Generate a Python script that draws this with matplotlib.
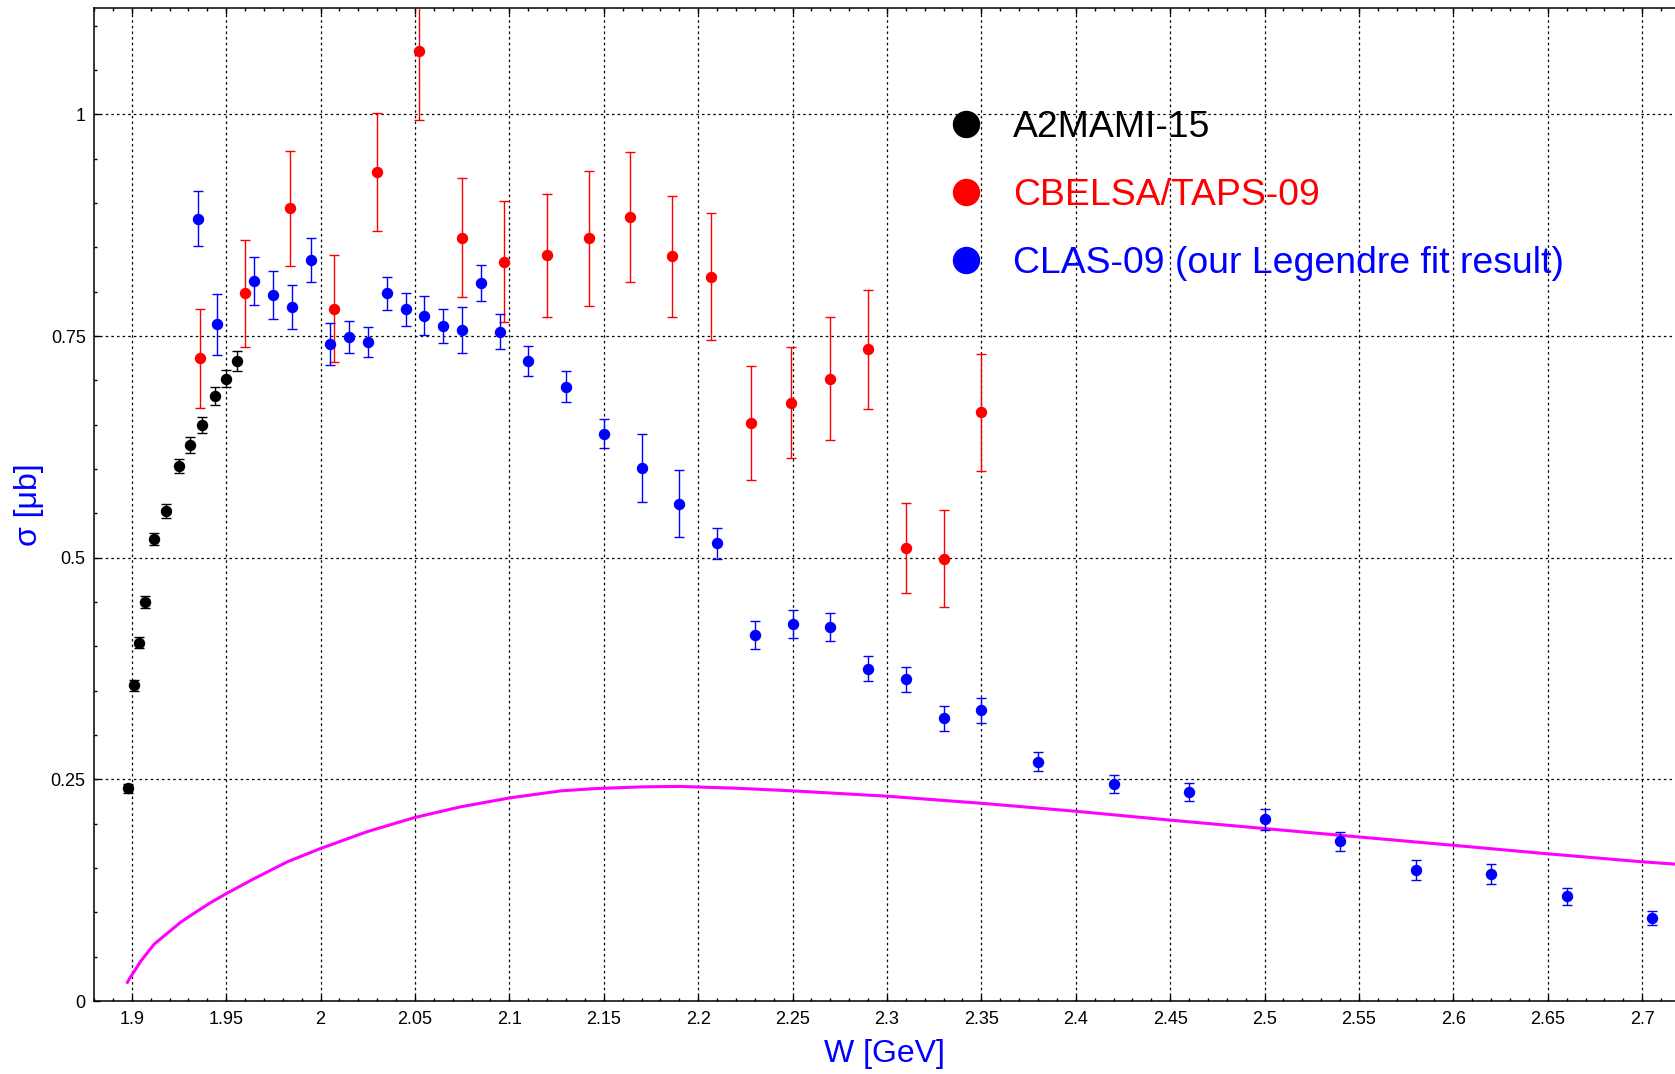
import matplotlib
matplotlib.use("Agg")
import matplotlib.pyplot as plt
from matplotlib.lines import Line2D
from matplotlib.ticker import MultipleLocator, FuncFormatter

plt.rcParams['font.family'] = ['Liberation Sans', 'DejaVu Sans']

# A2MAMI-15
mami_w = [1.898, 1.901, 1.904, 1.907, 1.912, 1.918, 1.925, 1.931, 1.937, 1.944, 1.950, 1.956]
mami_s = [0.240, 0.356, 0.404, 0.450, 0.521, 0.553, 0.603, 0.627, 0.650, 0.682, 0.702, 0.722]
mami_e = [0.005, 0.006, 0.006, 0.007, 0.007, 0.008, 0.008, 0.009, 0.009, 0.010, 0.010, 0.011]

# CBELSA/TAPS-09
cb_w = [1.936, 1.960, 1.984, 2.007, 2.030, 2.052, 2.075, 2.097, 2.120, 2.142, 2.164, 2.186,
        2.207, 2.228, 2.249, 2.270, 2.290, 2.310, 2.330, 2.350]
cb_s = [0.725, 0.798, 0.894, 0.781, 0.935, 1.071, 0.861, 0.834, 0.841, 0.860, 0.884, 0.840,
        0.817, 0.652, 0.675, 0.702, 0.735, 0.511, 0.499, 0.664]
cb_e = [0.056, 0.060, 0.065, 0.060, 0.067, 0.077, 0.067, 0.068, 0.069, 0.076, 0.073, 0.068,
        0.072, 0.064, 0.063, 0.069, 0.067, 0.051, 0.055, 0.066]

# CLAS-09 (Legendre fit)
clas_w = [1.935, 1.945, 1.965, 1.975, 1.985, 1.995, 2.005, 2.015, 2.025, 2.035, 2.045, 2.055,
          2.065, 2.075, 2.085, 2.095, 2.110, 2.130, 2.150, 2.170, 2.190, 2.210, 2.230, 2.250,
          2.270, 2.290, 2.310, 2.330, 2.350, 2.380, 2.420, 2.460, 2.500, 2.540, 2.580, 2.620,
          2.660, 2.705]
clas_s = [0.882, 0.763, 0.812, 0.796, 0.783, 0.836, 0.741, 0.749, 0.743, 0.798, 0.780, 0.773,
          0.761, 0.757, 0.810, 0.755, 0.722, 0.693, 0.640, 0.601, 0.561, 0.516, 0.413, 0.425,
          0.422, 0.375, 0.363, 0.319, 0.328, 0.270, 0.245, 0.236, 0.205, 0.180, 0.148, 0.143,
          0.118, 0.094]
clas_e = [0.031, 0.034, 0.027, 0.027, 0.025, 0.025, 0.024, 0.018, 0.017, 0.019, 0.019, 0.022,
          0.019, 0.026, 0.020, 0.020, 0.017, 0.017, 0.016, 0.038, 0.038, 0.017, 0.016, 0.016,
          0.016, 0.014, 0.014, 0.014, 0.014, 0.011, 0.010, 0.010, 0.012, 0.011, 0.011, 0.011,
          0.010, 0.008]

# model curve
curve_w = [1.8977, 1.899, 1.9012, 1.9048, 1.9085, 1.9118, 1.9189, 1.926, 1.933, 1.9418,
           1.95, 1.9648, 1.9824, 2.0, 2.0247, 2.05, 2.0742, 2.1, 2.1273, 2.1449, 2.17, 2.19,
           2.22, 2.25, 2.30, 2.35, 2.40, 2.45, 2.50, 2.55, 2.60, 2.65, 2.70, 2.72]
curve_s = [0.021, 0.026, 0.033, 0.045, 0.055, 0.064, 0.0765, 0.089, 0.0990, 0.111,
           0.121, 0.138, 0.157, 0.172, 0.191, 0.207, 0.219, 0.229, 0.237, 0.2395, 0.2415,
           0.242, 0.240, 0.237, 0.231, 0.223, 0.214, 0.204, 0.1945, 0.185, 0.1756, 0.166,
           0.157, 0.154]

labels = ["A2MAMI-15", "CBELSA/TAPS-09", "CLAS-09 (our Legendre fit result)"]
colors = ["black", "#ff0000", "#0000ff"]

W, H = 1675, 1074
fig = plt.figure(figsize=(W / 100, H / 100), dpi=100)
ax = fig.add_axes([94 / W, 1 - 1001 / H, 1 - 94 / W, (1001 - 7.5) / H])

ax.grid(True, which='major', color='black', linestyle=(0, (2, 2.5)), linewidth=0.9)
ax.set_axisbelow(True)

ax.plot(curve_w, curve_s, color='#ff00ff', lw=2.2, zorder=3, solid_joinstyle='round')

for w, s, e, c in [(mami_w, mami_s, mami_e, colors[0]),
                   (cb_w, cb_s, cb_e, colors[1]),
                   (clas_w, clas_s, clas_e, colors[2])]:
    ax.errorbar(w, s, yerr=e, fmt='o', color=c, ecolor=c, markersize=7.2,
                elinewidth=1.0, capsize=3.6, capthick=1.0, zorder=4)

ax.set_xlim(1.88, 2.7174)
ax.set_ylim(0, 1.1205)

ax.xaxis.set_major_locator(MultipleLocator(0.05))
ax.xaxis.set_minor_locator(MultipleLocator(0.01))
ax.yaxis.set_major_locator(MultipleLocator(0.25))
ax.yaxis.set_minor_locator(MultipleLocator(0.05))
fmt = FuncFormatter(lambda v, p: ('%g' % round(v, 4)))
ax.xaxis.set_major_formatter(fmt)
ax.yaxis.set_major_formatter(fmt)

ax.tick_params(which='both', direction='in', top=True, right=False, labelsize=13, width=1.0)
ax.tick_params(which='major', length=4.5)
ax.tick_params(which='minor', length=2.5)
ax.tick_params(axis='x', pad=7)
ax.tick_params(axis='y', pad=6)

for s in ['left', 'bottom', 'top']:
    ax.spines[s].set_linewidth(1.1)
ax.spines['right'].set_visible(False)

ax.set_xlabel("W [GeV]", fontsize=23, color='#0000ff', labelpad=8)
ax.set_ylabel("σ [μb]", fontsize=23, color='#0000ff', labelpad=5)

handles = [Line2D([], [], marker='o', ls='', color=c, markersize=18.7) for c in colors]
leg = ax.legend(handles, labels, loc='upper left', bbox_to_anchor=(951 / W, 1 - 110 / H),
                bbox_transform=fig.transFigure, frameon=False, fontsize=26.9,
                handlelength=0.8, handletextpad=0.86, labelspacing=0.88, borderpad=0,
                borderaxespad=0, labelcolor=colors)

fig.savefig("out.png", dpi=100)
